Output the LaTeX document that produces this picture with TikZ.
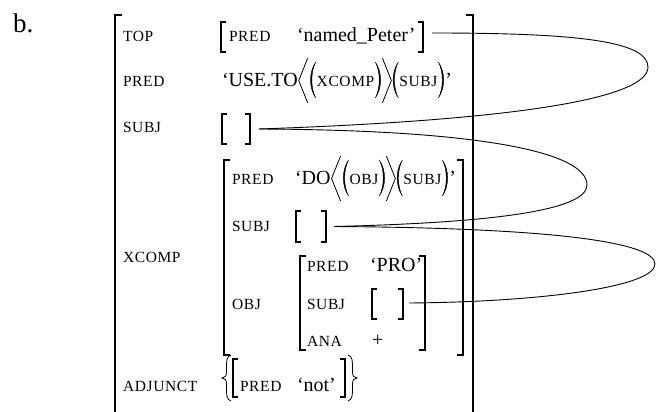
\documentclass[tikz,border=0pt]{standalone}
\usepackage{fontspec}
\setmainfont{Liberation Serif}
\newfontfamily\scfam[LetterSpace=4]{Liberation Serif}
\newcommand\scfont{\scfam\fontsize{15.5}{17}\selectfont}
\newcommand\brkts[3][]{%
  \draw[#1] ([xshift=#3]#2.north west) -- (#2.north west) -- (#2.south west) -- ([xshift=#3]#2.south west);
  \draw[#1] ([xshift=-#3]#2.north east) -- (#2.north east) -- (#2.south east) -- ([xshift=-#3]#2.south east);}
% delimiters drawn relative to a named coordinate on the baseline (y grows downwards)
\newcommand\angL[1]{\draw[dl,shift={(#1)}] (10,-29) -- (1,-6.5) -- (10,16);}
\newcommand\angR[1]{\draw[dl,shift={(#1)}] (0,-29) -- (9,-6.5) -- (0,16);}
\newcommand\parL[1]{\filldraw[pl,shift={(#1)}] (7,-25) .. controls (0,-15) and (0,1) .. (7,11) .. controls (1.8,1) and (1.8,-15) .. (7,-25) -- cycle;}
\newcommand\parR[1]{\filldraw[pl,shift={(#1)}] (1,-25) .. controls (8,-15) and (8,1) .. (1,11) .. controls (6.2,1) and (6.2,-15) .. (1,-25) -- cycle;}
\newcommand\braceL[1]{\draw[dl,shift={(#1)}] (9,-23) .. controls (4.5,-22) and (4.5,-16) .. (4.5,-11) -- (4.5,-6) .. controls (4.5,-2) and (3,0) .. (0,0) .. controls (3,0) and (4.5,2) .. (4.5,6) -- (4.5,11) .. controls (4.5,16) and (4.5,22) .. (9,23);}
\newcommand\braceR[1]{\draw[dl,shift={(#1)}] (-9,-23) .. controls (-4.5,-22) and (-4.5,-16) .. (-4.5,-11) -- (-4.5,-6) .. controls (-4.5,-2) and (-3,0) .. (0,0) .. controls (-3,0) and (-4.5,2) .. (-4.5,6) -- (-4.5,11) .. controls (-4.5,16) and (-4.5,22) .. (-9,23);}
\begin{document}
\begin{tikzpicture}[x=1pt,y=-1pt,
  box/.style={rectangle,draw=none,inner sep=0pt,outer sep=0pt},
  txt/.style={anchor=base west,inner sep=0pt,outer sep=0pt,font=\fontsize{20}{24}\selectfont},
  lbl/.style={anchor=base west,inner sep=0pt,outer sep=0pt,font=\scfont},
  brk/.style={line width=1.1pt},
  bigbrk/.style={line width=1.8pt},
  midbrk/.style={line width=1.4pt},
  dl/.style={line width=0.8pt},
  pl/.style={line width=0.4pt},
  conn/.style={line width=0.9pt}]
\useasboundingbox (0,0) rectangle (657,412);

% bracket boxes
\node[box,minimum width=358pt,minimum height=403pt] (outer) at (294,216.5) {};
\node[box,minimum width=202pt,minimum height=30pt] (topv) at (322,37) {};
\node[box,minimum width=28pt,minimum height=30pt] (subj1) at (236,129) {};
\node[box,minimum width=239pt,minimum height=195pt] (xcomp) at (343.5,257.5) {};
\node[box,minimum width=30pt,minimum height=31pt] (xsubj) at (311,226.5) {};
\node[box,minimum width=125pt,minimum height=94pt] (obj) at (362.5,303) {};
\node[box,minimum width=31pt,minimum height=30pt] (osubj) at (387.5,304) {};
\node[box,minimum width=112pt,minimum height=38pt] (adjv) at (289,378) {};

\brkts[bigbrk]{outer}{7pt}
\brkts[brk]{topv}{5pt}
\brkts[brk]{subj1}{5pt}
\brkts[midbrk]{xcomp}{6pt}
\brkts[brk]{xsubj}{5pt}
\brkts[midbrk]{obj}{6pt}
\brkts[brk]{osubj}{5pt}
\brkts[brk]{adjv}{5pt}
\coordinate (bl) at ([xshift=-11pt]adjv.west);
\coordinate (br) at ([xshift=12pt]adjv.east);
\braceL{bl}
\braceR{br}

% labels
\node[txt,font=\fontsize{27}{30}\selectfont] (lb) at (13,33) {b.};
\node[lbl] (l1) at (123,42) {TOP};
\node[lbl] (l2) at (123,87) {PRED};
\node[lbl] (l3) at (123,133) {SUBJ};
\node[lbl] (l4) at (123,262) {XCOMP};
\node[lbl] (l5) at (123,391) {ADJUNCT};

% TOP value
\node[lbl] (t1) at (229,42) {PRED};
\node[txt] (t2) at (297,42) {‘named\_Peter’};

% PRED row
\node[txt] (pa) at (222,87) {‘USE.TO};
\coordinate (pa1) at (pa.base east); \angL{pa1}
\coordinate (pa2) at ([xshift=11pt]pa1); \parL{pa2}
\node[lbl] (pb) at ([xshift=8pt]pa2) {XCOMP};
\coordinate (pa3) at (pb.base east); \parR{pa3}
\coordinate (pa4) at ([xshift=8pt]pa3); \angR{pa4}
\coordinate (pa5) at ([xshift=9pt]pa4); \parL{pa5}
\node[lbl] (pc) at ([xshift=8pt]pa5) {SUBJ};
\coordinate (pa6) at (pc.base east); \parR{pa6}
\node[txt] (pd) at ([xshift=8pt]pa6) {’};

% XCOMP
\node[lbl] (x1) at (232,185) {PRED};
\node[txt] (xa) at (295,185) {‘DO};
\coordinate (xa1) at (xa.base east); \angL{xa1}
\coordinate (xa2) at ([xshift=11pt]xa1); \parL{xa2}
\node[lbl] (xb) at ([xshift=8pt]xa2) {OBJ};
\coordinate (xa3) at (xb.base east); \parR{xa3}
\coordinate (xa4) at ([xshift=8pt]xa3); \angR{xa4}
\coordinate (xa5) at ([xshift=9pt]xa4); \parL{xa5}
\node[lbl] (xc) at ([xshift=8pt]xa5) {SUBJ};
\coordinate (xa6) at (xc.base east); \parR{xa6}
\node[txt] (xd) at ([xshift=8pt]xa6) {’};
\node[lbl] (x3) at (232,231) {SUBJ};
\node[lbl] (x4) at (232,309) {OBJ};

% OBJ
\node[lbl] (o1) at (307,271) {PRED};
\node[txt] (o2) at (370,271) {‘PRO’};
\node[lbl] (o3) at (307,309) {SUBJ};
\node[lbl] (o4) at (307,346) {ANA};
\node[txt] (o5) at (372,346) {+};

% ADJUNCT
\node[lbl] (a1) at (240,391) {PRED};
\node[txt] (a2) at (297,391) {‘not’};

% connectors
\coordinate (r1) at (648,67);
\coordinate (r2) at (587,185);
\coordinate (r3) at (655,264);
\draw[conn] ([xshift=9pt,yshift=4pt]topv.east) .. controls (570,33) and (648,40) .. (r1)
  .. controls (648,98) and (520,120) .. ([xshift=9pt]subj1.east);
\draw[conn] ([xshift=9pt]subj1.east) .. controls (480,130) and (587,152) .. (r2)
  .. controls (587,212) and (480,223) .. ([xshift=8pt]xsubj.east);
\draw[conn] ([xshift=8pt]xsubj.east) .. controls (560,228) and (655,243) .. (r3)
  .. controls (655,287) and (540,302) .. ([xshift=6pt,yshift=1pt]osubj.east);
\end{tikzpicture}
\end{document}
